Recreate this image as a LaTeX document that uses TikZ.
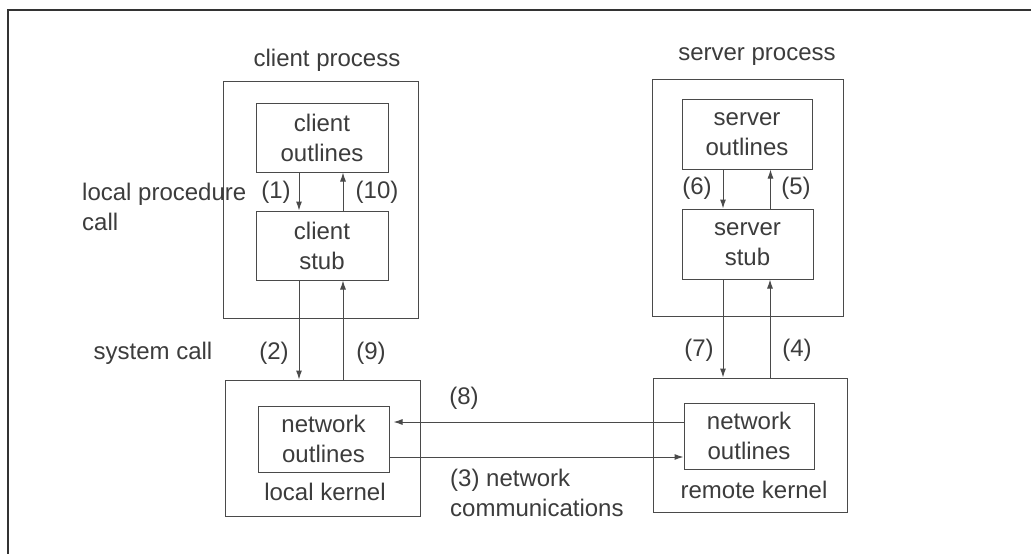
\documentclass[tikz,border=0pt]{standalone}
\usepackage{fontspec}
\setmainfont{Liberation Sans}
\usetikzlibrary{arrows.meta,calc}
\definecolor{ink}{HTML}{3C3C3C}
\definecolor{linec}{HTML}{4A4A4A}
\begin{document}
\begin{tikzpicture}[x=1pt,y=-1pt,
  font=\fontsize{24}{30}\selectfont, text=ink,
  box/.style={draw=linec, line width=1pt, rectangle, inner sep=0pt, align=center},
  arr/.style={draw=linec, line width=1pt, -{Latex[length=9pt,width=6pt]}},
  lbl/.style={inner sep=0pt, align=left}]
\useasboundingbox (0,0) rectangle (1031,554);
\fill[white] (0,0) rectangle (1031,554);
% frame
\draw[line width=1.6pt, black!80] (8,554) -- (8,10) -- (1031,10);

% client side
\node[box, minimum width=195pt, minimum height=237pt] (cp) at (320.5,199.5) {};
\node[box, minimum width=132pt, minimum height=69pt] (co) at (322,137.5) {client\\outlines};
\node[box, minimum width=132pt, minimum height=69pt] (cs) at (322,245.5) {client\\stub};
\node[box, minimum width=195pt, minimum height=136pt] (lk) at (322.5,448) {};
\node[box, minimum width=131pt, minimum height=66pt] (ln) at (323.5,439) {network\\outlines};
\node[lbl] (lkt) at (325,492) {local kernel};
\node[lbl] (cpt) at (327,60) {client process};

% server side
\node[box, minimum width=191pt, minimum height=237pt] (sp) at (747.5,197.5) {};
\node[box, minimum width=130pt, minimum height=70pt] (so) at (747,134) {server\\outlines};
\node[box, minimum width=131pt, minimum height=70pt] (ss) at (747.5,244) {server\\stub};
\node[box, minimum width=194pt, minimum height=134pt] (rk) at (750,445) {};
\node[box, minimum width=130pt, minimum height=66pt] (rn) at (749,436) {network\\outlines};
\node[lbl] (rkt) at (754,490) {remote kernel};
\node[lbl] (spt) at (757,57) {server process};

% vertical arrows, client
\draw[arr] ([xshift=-23pt]co.south) -- ([xshift=-23pt]co.south |- cs.north);
\draw[arr] ([xshift=21pt]cs.north) -- ([xshift=21pt]cs.north |- co.south);
\draw[arr] ([xshift=-23pt]cs.south) -- ([xshift=-23pt]cs.south |- lk.north);
\draw[arr] ([xshift=21pt]cs.south |- lk.north) -- ([xshift=21pt]cs.south);

% vertical arrows, server
\draw[arr] ([xshift=-24pt]so.south) -- ([xshift=-24pt]so.south |- ss.north);
\draw[arr] ([xshift=23pt]ss.north) -- ([xshift=23pt]ss.north |- so.south);
\draw[arr] ([xshift=-24.5pt]ss.south) -- ([xshift=-24.5pt]ss.south |- rk.north);
\draw[arr] ([xshift=22.5pt]ss.south |- rk.north) -- ([xshift=22.5pt]ss.south);

% horizontal arrows
\draw[arr, shorten >=4pt] ([yshift=14pt]rn.west) -- ([yshift=14pt]rn.west -| ln.east);
\draw[arr] ([yshift=-18pt]ln.east) -- ([yshift=-18pt]ln.east -| rn.west);

% labels
\node[lbl, anchor=west] (lpc) at (82,207) {local procedure\\call};
\node[lbl] (l1) at (276,192) {(1)};
\node[lbl] (l10) at (377,192) {(10)};
\node[lbl] (l6) at (697,188) {(6)};
\node[lbl] (l5) at (796,188) {(5)};
\node[lbl] (sc) at (153,353) {system call};
\node[lbl] (l2) at (274,353) {(2)};
\node[lbl] (l9) at (371,353) {(9)};
\node[lbl] (l7) at (699,350) {(7)};
\node[lbl] (l4) at (797,350) {(4)};
\node[lbl] (l8) at (464,398) {(8)};
\node[lbl, anchor=west] (l3) at (450,493) {(3) network\\communications};
\end{tikzpicture}
\end{document}
